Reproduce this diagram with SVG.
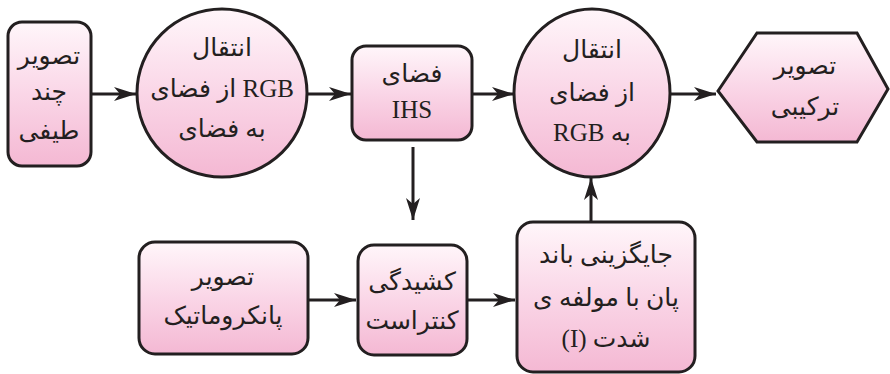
<svg xmlns="http://www.w3.org/2000/svg" width="890" height="374" viewBox="0 0 890 374">
<defs>
<linearGradient id="pink" x1="0" y1="0" x2="0" y2="1">
<stop offset="0" stop-color="#fff6fa"/>
<stop offset="0.5" stop-color="#fad6e7"/>
<stop offset="1" stop-color="#f4b8d3"/>
</linearGradient>
<marker id="ah" viewBox="0 0 22 14" markerWidth="22" markerHeight="14" refX="22" refY="7" orient="auto" markerUnits="userSpaceOnUse">
<path d="M0,0 L22,7 L0,14 L6,7 Z" fill="#231f20"/>
</marker>
</defs>
<style>
.node{fill:url(#pink);stroke:#231f20;stroke-width:3}
.t{font-family:"Liberation Serif","DejaVu Sans",serif;font-size:25px;fill:#231f20;text-anchor:middle}
.r{direction:rtl}
.l{direction:ltr;unicode-bidi:embed}
.edge{stroke:#231f20;stroke-width:3;fill:none;marker-end:url(#ah)}
</style>
<rect width="890" height="374" fill="#ffffff"/>
<g id="connectors">
<line class="edge" x1="92" y1="94" x2="136" y2="94"/>
<line class="edge" x1="308" y1="94" x2="351" y2="94"/>
<line class="edge" x1="473" y1="94" x2="514" y2="94"/>
<line class="edge" x1="671" y1="94" x2="716" y2="94"/>
<line class="edge" x1="413" y1="147" x2="413" y2="220"/>
<line class="edge" x1="309" y1="300" x2="356" y2="300"/>
<line class="edge" x1="468" y1="300" x2="515" y2="300"/>
<line class="edge" x1="591" y1="221" x2="591" y2="178"/>
</g>
<g id="multispectral">
<rect class="node" x="8" y="22" width="83" height="144" rx="14"/>
<text class="t r" x="49" y="64">تصویر</text>
<text class="t r" x="49" y="100">چند</text>
<text class="t r" x="49" y="139">طیفی</text>
</g>
<g id="rgb2ihs">
<ellipse class="node" cx="222" cy="93" rx="85" ry="84"/>
<text class="t r" x="222" y="56">انتقال</text>
<text class="t l" x="222" y="97">از فضای RGB</text>
<text class="t r" x="222" y="137">به فضای</text>
</g>
<g id="ihs">
<rect class="node" x="352" y="46" width="120" height="94" rx="14"/>
<text class="t r" x="412" y="82">فضای</text>
<text class="t" x="412" y="118">IHS</text>
</g>
<g id="ihs2rgb">
<ellipse class="node" cx="592" cy="93" rx="78" ry="84"/>
<text class="t r" x="592" y="58">انتقال</text>
<text class="t r" x="592" y="101">از فضای</text>
<text class="t r" x="592" y="141">به RGB</text>
</g>
<g id="fused">
<polygon class="node" points="718,91 757,33 857,33 888,89 857,142 757,142"/>
<text class="t r" x="805" y="74">تصویر</text>
<text class="t r" x="805" y="115">ترکیبی</text>
</g>
<g id="panchromatic">
<rect class="node" x="139" y="242" width="169" height="112" rx="16"/>
<text class="t r" x="223" y="285">تصویر</text>
<text class="t r" x="223" y="324">پانکروماتیک</text>
</g>
<g id="contrast">
<rect class="node" x="358" y="245" width="109" height="110" rx="16"/>
<text class="t r" x="412" y="290">کشیدگی</text>
<text class="t r" x="412" y="329">کنتراست</text>
</g>
<g id="replace">
<rect class="node" x="517" y="222" width="178" height="150" rx="16"/>
<text class="t r" x="606" y="263">جایگزینی باند</text>
<text class="t r" x="606" y="306">پان با مولفه ی</text>
<text class="t r" x="606" y="347">شدت (I)</text>
</g>
</svg>
